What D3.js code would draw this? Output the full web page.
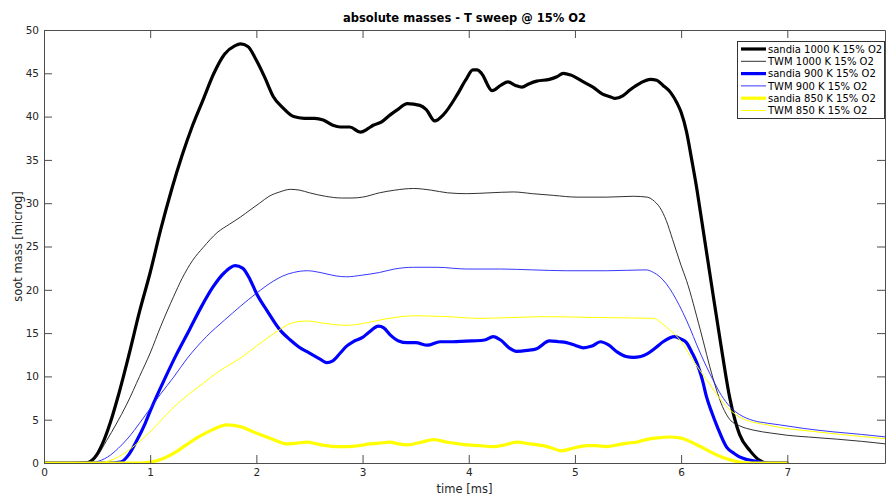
<!DOCTYPE html>
<html>
<head>
<meta charset="utf-8">
<script src="https://cdn.jsdelivr.net/npm/d3@7"></script>
<style>
  html, body { margin: 0; padding: 0; background: #fff; }
  svg { display: block; font-family: "DejaVu Sans", sans-serif; }
</style>
</head>
<body>
<svg id="chart" width="886" height="496"></svg>
<script>
// Soot mass vs time, [time ms, mass microg] pairs per series
const sandia1000 = [[0,0],[0.3,0],[0.41,0.05],[0.45,0.3],[0.5,1.0],[0.55,2.2],[0.62,4.5],[0.7,7.8],[0.8,12.5],[0.9,17.5],[1.0,22],[1.1,27],[1.2,31.5],[1.3,35.5],[1.4,39],[1.5,42],[1.6,45],[1.7,47.2],[1.8,48.2],[1.85,48.4],[1.92,48.1],[2.0,46.5],[2.08,44.5],[2.16,42.3],[2.25,41.0],[2.35,40.0],[2.45,39.8],[2.55,39.8],[2.63,39.6],[2.72,39.0],[2.79,38.8],[2.88,38.8],[2.98,38.2],[3.05,38.6],[3.10,39.0],[3.18,39.4],[3.26,40.2],[3.34,40.9],[3.42,41.5],[3.54,41.3],[3.60,40.8],[3.68,39.5],[3.76,40.2],[3.89,42.5],[3.97,44.2],[4.04,45.4],[4.08,45.4],[4.12,45.0],[4.22,43.0],[4.30,43.6],[4.37,44.0],[4.44,43.6],[4.50,43.4],[4.57,43.8],[4.64,44.1],[4.76,44.3],[4.83,44.6],[4.89,45.0],[4.96,44.8],[5.08,44.0],[5.17,43.4],[5.26,42.6],[5.33,42.3],[5.38,42.1],[5.45,42.4],[5.52,43.1],[5.62,43.9],[5.71,44.3],[5.77,44.2],[5.83,43.6],[5.90,42.8],[5.96,41.6],[6.0,40.5],[6.05,38.3],[6.1,35],[6.15,31.5],[6.2,27.5],[6.25,23.5],[6.3,19.5],[6.37,14],[6.46,7.4],[6.55,3.3],[6.65,1.4],[6.74,0.3],[6.8,0],[7.0,0]];

const twm1000 = [[0,0],[0.35,0],[0.43,0.1],[0.5,0.8],[0.59,2.6],[0.68,4.5],[0.78,6.8],[0.9,10],[1.0,12.7],[1.1,15.8],[1.22,19.2],[1.3,21.3],[1.4,23.4],[1.5,24.9],[1.63,26.6],[1.75,27.6],[1.85,28.4],[1.95,29.3],[2.03,30.0],[2.12,30.8],[2.22,31.3],[2.32,31.6],[2.41,31.5],[2.5,31.2],[2.65,30.8],[2.8,30.6],[2.9,30.6],[3.0,30.7],[3.16,31.2],[3.3,31.5],[3.48,31.7],[3.65,31.5],[3.8,31.2],[3.98,31.1],[4.2,31.2],[4.42,31.3],[4.6,31.1],[4.8,30.9],[5.02,30.7],[5.3,30.7],[5.55,30.8],[5.68,30.7],[5.75,30.2],[5.80,29.5],[5.86,28],[5.92,25.8],[6.0,22.8],[6.05,21.1],[6.18,15.4],[6.3,9.8],[6.39,6.5],[6.46,5.0],[6.55,4.3],[6.68,3.8],[6.85,3.45],[7.0,3.2],[7.2,3.0],[7.47,2.75],[7.7,2.5],[7.93,2.2]];

const sandia900 = [[0,0],[0.6,0],[0.72,0.1],[0.8,1.0],[0.87,2.5],[0.95,4.5],[1.0,6.0],[1.14,9.8],[1.25,12.6],[1.37,15.4],[1.48,18.0],[1.59,20.3],[1.7,22.0],[1.80,22.8],[1.87,22.5],[1.94,21.2],[2.0,19.6],[2.1,17.6],[2.22,15.4],[2.32,14.2],[2.4,13.4],[2.5,12.7],[2.6,12.0],[2.66,11.6],[2.72,11.8],[2.79,12.7],[2.85,13.5],[2.91,14.0],[3.0,14.5],[3.06,15.1],[3.15,15.8],[3.2,15.6],[3.26,14.8],[3.34,14.1],[3.42,13.9],[3.5,13.9],[3.61,13.6],[3.73,14.0],[3.85,14.0],[4.04,14.1],[4.15,14.2],[4.23,14.6],[4.3,14.2],[4.38,13.3],[4.45,12.9],[4.55,13.0],[4.64,13.2],[4.76,14.1],[4.85,14.0],[4.92,13.9],[5.0,13.6],[5.08,13.3],[5.16,13.5],[5.24,14.0],[5.32,13.6],[5.40,12.8],[5.48,12.3],[5.55,12.2],[5.62,12.3],[5.68,12.6],[5.76,13.3],[5.83,14.0],[5.94,14.6],[6.0,14.3],[6.05,13.9],[6.1,12.8],[6.15,11.5],[6.2,9.6],[6.24,7.6],[6.29,5.8],[6.34,4.2],[6.43,1.8],[6.5,1.1],[6.55,0.7],[6.62,0.4],[6.71,0.2],[6.8,0],[7.0,0]];

const twm900 = [[0,0],[0.4,0],[0.48,0.1],[0.6,0.7],[0.7,1.7],[0.8,3.0],[0.9,4.6],[1.0,6.3],[1.1,8.0],[1.22,9.9],[1.35,12.1],[1.53,14.6],[1.7,16.5],[1.85,18.1],[2.0,19.6],[2.16,21.0],[2.25,21.6],[2.35,22.0],[2.48,22.2],[2.6,22.0],[2.75,21.6],[2.85,21.5],[3.0,21.7],[3.16,22.0],[3.3,22.4],[3.48,22.6],[3.7,22.6],[3.98,22.4],[4.3,22.4],[4.6,22.3],[4.92,22.2],[5.3,22.2],[5.67,22.3],[5.74,22.0],[5.80,21.5],[5.86,20.7],[5.92,19.6],[6.05,16.5],[6.18,12.7],[6.30,9.6],[6.38,7.8],[6.46,6.5],[6.55,5.6],[6.68,4.9],[6.81,4.6],[6.93,4.4],[7.15,4.0],[7.43,3.6],[7.7,3.3],[7.93,3.0]];

const sandia850 = [[0,0],[0.9,0],[1.0,0.1],[1.1,0.4],[1.22,1.1],[1.33,2.0],[1.44,2.9],[1.58,3.8],[1.72,4.4],[1.85,4.2],[1.97,3.6],[2.10,3.0],[2.2,2.5],[2.29,2.2],[2.38,2.3],[2.48,2.4],[2.57,2.2],[2.66,2.0],[2.75,1.9],[2.85,1.9],[2.96,2.0],[3.07,2.2],[3.16,2.3],[3.26,2.4],[3.34,2.2],[3.42,2.1],[3.55,2.4],[3.67,2.7],[3.8,2.4],[3.98,2.1],[4.1,2.0],[4.23,1.9],[4.34,2.1],[4.45,2.4],[4.58,2.2],[4.70,2.0],[4.79,1.7],[4.87,1.4],[4.98,1.7],[5.11,2.0],[5.2,2.0],[5.30,1.9],[5.4,2.1],[5.49,2.3],[5.58,2.4],[5.67,2.7],[5.78,2.9],[5.89,3.0],[5.99,2.9],[6.08,2.5],[6.18,1.9],[6.29,1.2],[6.40,0.6],[6.48,0.3],[6.55,0.1],[6.65,0],[7.0,0]];

const twm850 = [[0,0],[0.5,0],[0.6,0.2],[0.7,0.7],[0.8,1.5],[0.9,2.5],[1.0,3.6],[1.1,4.9],[1.2,6.2],[1.3,7.3],[1.4,8.3],[1.5,9.2],[1.56,9.8],[1.7,11.0],[1.85,12.1],[2.0,13.5],[2.1,14.4],[2.22,15.4],[2.3,16.0],[2.38,16.3],[2.48,16.4],[2.6,16.2],[2.85,15.9],[3.0,16.1],[3.16,16.5],[3.3,16.8],[3.48,17.0],[3.8,16.9],[4.1,16.7],[4.4,16.8],[4.73,16.9],[5.2,16.8],[5.74,16.7],[5.8,16.3],[5.86,15.7],[5.99,14.2],[6.11,11.9],[6.24,9.6],[6.40,6.9],[6.55,5.3],[6.68,4.7],[6.81,4.4],[6.93,4.1],[7.2,3.7],[7.5,3.3],[7.93,2.8]];

const seriesNames = ["sandia 1000 K 15% O2", "TWM 1000 K 15% O2", "sandia 900 K 15% O2", "TWM 900 K 15% O2", "sandia 850 K 15% O2", "TWM 850 K 15% O2"];
const xTicks = [0, 1, 2, 3, 4, 5, 6, 7];
const yTicks = [0, 5, 10, 15, 20, 25, 30, 35, 40, 45, 50];

const seriesData = [sandia1000, twm1000, sandia900, twm900, sandia850, twm850];
const seriesStyle = [
  { color: "#000000", width: 3.2 },
  { color: "#1a1a1a", width: 0.9 },
  { color: "#0000ff", width: 3.2 },
  { color: "#2020ff", width: 0.9 },
  { color: "#ffff00", width: 3.2 },
  { color: "#ffff00", width: 1.0 }
];

const svg = d3.select("#chart");
const plotL = 44, plotR = 885, plotT = 30, plotB = 463;
const x = d3.scaleLinear().domain([0, 7.92]).range([plotL, plotR]);
const y = d3.scaleLinear().domain([0, 50]).range([plotB, plotT]);

const axisColor = "#4d4d4d";
const tickLen = 8;

// clip the curves to the axes box
svg.append("defs").append("clipPath").attr("id", "plotClip")
  .append("rect").attr("x", plotL).attr("y", plotT).attr("width", plotR - plotL).attr("height", plotB - plotT);

// data curves
const line = d3.line().x(d => x(d[0])).y(d => y(d[1])).curve(d3.curveMonotoneX);
const curves = svg.append("g").attr("clip-path", "url(#plotClip)");
seriesData.forEach((data, i) => {
  curves.append("path")
    .datum(data)
    .attr("d", line)
    .attr("fill", "none")
    .attr("stroke", seriesStyle[i].color)
    .attr("stroke-width", seriesStyle[i].width)
    .attr("stroke-linejoin", "round")
    .attr("stroke-linecap", "round");
});

// axes: ticks point inward on all four sides
const fmt = d3.format("d");
const gBottom = svg.append("g").attr("transform", `translate(0,${plotB})`)
  .call(d3.axisBottom(x).tickValues(xTicks).tickFormat(fmt).tickSizeInner(-tickLen).tickSizeOuter(0).tickPadding(6));
const gTop = svg.append("g").attr("transform", `translate(0,${plotT})`)
  .call(d3.axisTop(x).tickValues(xTicks).tickFormat("").tickSizeInner(-tickLen).tickSizeOuter(0));
const gLeft = svg.append("g").attr("transform", `translate(${plotL},0)`)
  .call(d3.axisLeft(y).tickValues(yTicks).tickFormat(fmt).tickSizeInner(-tickLen).tickSizeOuter(0).tickPadding(5));
const gRight = svg.append("g").attr("transform", `translate(${plotR},0)`)
  .call(d3.axisRight(y).tickValues(yTicks).tickFormat("").tickSizeInner(-tickLen).tickSizeOuter(0));

[gBottom, gTop, gLeft, gRight].forEach(g => {
  g.select(".domain").attr("stroke", axisColor).attr("stroke-width", 1);
  g.selectAll(".tick line").attr("stroke", axisColor);
  g.selectAll(".tick text").attr("fill", "#262626").attr("font-size", 10.5)
    .attr("font-family", "'DejaVu Sans', sans-serif");
});

// title and axis labels
svg.append("text")
  .attr("x", (plotL + plotR) / 2).attr("y", 22)
  .attr("text-anchor", "middle").attr("font-size", 11.5).attr("font-weight", "bold")
  .attr("fill", "#000")
  .text("absolute masses - T sweep @ 15% O2");

svg.append("text")
  .attr("x", (plotL + plotR) / 2).attr("y", 493)
  .attr("text-anchor", "middle").attr("font-size", 11.5).attr("fill", "#262626")
  .text("time [ms]");

svg.append("text")
  .attr("transform", `translate(22,${(plotT + plotB) / 2}) rotate(-90)`)
  .attr("text-anchor", "middle").attr("font-size", 11.5).attr("fill", "#262626")
  .text("soot mass [microg]");

// legend
const legX = 737, legY = 41, legW = 147, legH = 77, rowH = 12.3;
const leg = svg.append("g");
leg.append("rect")
  .attr("x", legX + 0.5).attr("y", legY + 0.5).attr("width", legW).attr("height", legH)
  .attr("fill", "#fff").attr("stroke", "#333").attr("stroke-width", 1);
seriesNames.forEach((name, i) => {
  const ry = legY + 8 + i * rowH;
  leg.append("line")
    .attr("x1", legX + 4).attr("x2", legX + 29).attr("y1", ry).attr("y2", ry)
    .attr("stroke", seriesStyle[i].color).attr("stroke-width", seriesStyle[i].width);
  leg.append("text")
    .attr("x", legX + 31).attr("y", ry + 3.6)
    .attr("font-size", 10).attr("fill", "#000")
    .text(name);
});
</script>
</body>
</html>
